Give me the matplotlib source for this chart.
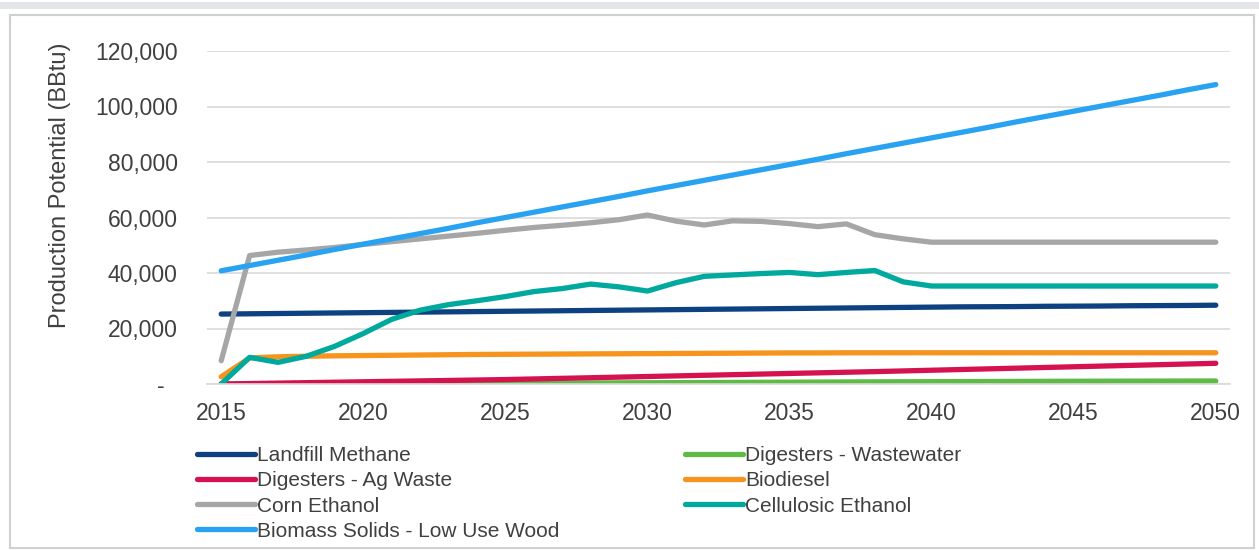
import numpy as np
import matplotlib
matplotlib.use('Agg')
import matplotlib.pyplot as plt
from matplotlib.patches import Rectangle

plt.rcParams['font.family'] = ['Liberation Sans', 'DejaVu Sans']

# years on the category axis
years = list(range(2015, 2051))

# series values (BBtu)
landfill = [25200, 25300, 25400, 25500, 25600, 25700, 25800, 25900, 26000, 26100,
            26200, 26300, 26400, 26500, 26600, 26700, 26800, 26900, 27000, 27100,
            27200, 27300, 27400, 27500, 27600, 27700, 27800, 27850, 27900, 28000,
            28050, 28100, 28200, 28250, 28300, 28400]
wastewater = [0, 20, 40, 60, 90, 120, 150, 180, 210, 240,
              270, 300, 330, 370, 410, 450, 490, 530, 570, 610,
              650, 690, 730, 770, 810, 840, 870, 900, 930, 960,
              990, 1010, 1030, 1050, 1070, 1080]
ag_waste = [0, 160, 320, 480, 640, 800, 960, 1120, 1280, 1440,
            1600, 1820, 2040, 2260, 2480, 2700, 2920, 3140, 3360, 3580,
            3800, 4020, 4240, 4460, 4710, 4960, 5210, 5460, 5710, 5960,
            6210, 6460, 6710, 6960, 7210, 7460]
biodiesel = [2600, 9400, 9800, 10000, 10150, 10250, 10350, 10450, 10550, 10650,
             10700, 10750, 10800, 10850, 10900, 10950, 11000, 11050, 11100, 11150,
             11200, 11200, 11250, 11250, 11260, 11260, 11260, 11260, 11260, 11260,
             11260, 11260, 11260, 11260, 11260, 11260]
corn = [8400, 46300, 47500, 48300, 49200, 50300, 51300, 52300, 53300, 54300,
        55400, 56400, 57200, 58100, 59200, 60900, 58700, 57300, 58800, 58600,
        57800, 56700, 57700, 53800, 52300, 51100, 51100, 51100, 51100, 51100,
        51100, 51100, 51100, 51100, 51100, 51100]
cellulosic = [0, 9600, 7800, 10000, 13600, 18200, 23300, 26600, 28600, 30000,
              31500, 33300, 34400, 36000, 35000, 33500, 36500, 38800, 39300, 39800,
              40200, 39400, 40200, 40900, 36800, 35300, 35300, 35300, 35300, 35300,
              35300, 35300, 35300, 35300, 35300, 35300]
biomass = [40800, 42700, 44600, 46500, 48500, 50400, 52300, 54200, 56100, 58100,
           60000, 61900, 63800, 65700, 67600, 69600, 71500, 73400, 75300, 77200,
           79100, 81000, 83000, 84900, 86800, 88700, 90600, 92500, 94500, 96400,
           98300, 100200, 102100, 104000, 106000, 107900]

names = ['Landfill Methane', 'Digesters - Ag Waste', 'Corn Ethanol',
         'Biomass Solids - Low Use Wood', 'Digesters - Wastewater', 'Biodiesel',
         'Cellulosic Ethanol']
series = [landfill, ag_waste, corn, biomass, wastewater, biodiesel, cellulosic]
colors = ['#0E4181', '#D5124F', '#A6A6A6', '#2AA2F2', '#5DBB46', '#F7941D', '#00A99D']

# back to front
draw_order = [0, 4, 1, 5, 2, 6, 3]

fig = plt.figure(figsize=(12.59, 5.5), dpi=100)
W, H = 1259, 550

# outer frame and top band
fig.patches.append(Rectangle((10 / W, 2 / H), 1244 / W, 533 / H, transform=fig.transFigure,
                             fill=False, edgecolor='#D0D0D0', linewidth=1.5))
fig.patches.append(Rectangle((0, 1 - 9 / H), 1, 7 / H, transform=fig.transFigure,
                             facecolor='#E3E5E8', edgecolor='none'))

ax = fig.add_axes([207 / W, 1 - 384 / H, 1023 / W, 333 / H])

lines = {}
for i in draw_order:
    ln, = ax.plot(years, series[i], color=colors[i], linewidth=3.8,
                  solid_capstyle='round', solid_joinstyle='round', label=names[i])
    lines[i] = ln

ax.set_xlim(2014.5, 2050.5)
ax.set_ylim(0, 120000)
ax.set_yticks(np.arange(0, 120001, 20000))
ax.set_yticklabels(['-  '] + ['{:,}'.format(v) for v in range(20000, 120001, 20000)])
ax.set_xticks(range(2015, 2051, 5))
ax.grid(axis='y', color='#D9D9D9', linewidth=1.2)
ax.set_axisbelow(True)
for s in ['top', 'right', 'left']:
    ax.spines[s].set_visible(False)
ax.spines['bottom'].set_color('#D9D9D9')
ax.spines['bottom'].set_linewidth(1.2)
ax.tick_params(axis='both', length=0, labelsize=16.5, colors='#404040')
ax.tick_params(axis='y', pad=21)
ax.tick_params(axis='x', pad=13)

fig.text(60 / W, 1 - 185 / H, 'Production Potential (BBtu)', rotation=90,
         ha='center', va='center', fontsize=17, color='#404040')

leg = fig.legend([lines[i] for i in range(7)], [names[i] for i in range(7)],
                 ncol=2, loc='upper left', bbox_to_anchor=(197 / W, 1 - 446 / H),
                 frameon=False, fontsize=15, handlelength=2.79, handletextpad=0.1,
                 labelspacing=0.3, columnspacing=6.0, borderpad=0, borderaxespad=0)
for t in leg.get_texts():
    t.set_color('#404040')

fig.savefig('out.png', dpi=100)
